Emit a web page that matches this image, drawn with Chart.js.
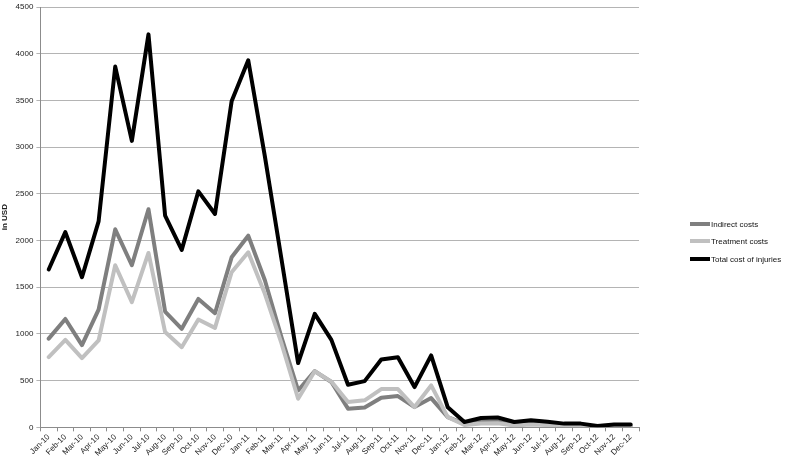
<!DOCTYPE html>
<html>
<head>
<meta charset="utf-8">
<script src="https://cdn.jsdelivr.net/npm/chart.js@4/dist/chart.umd.min.js"></script>
<style>
  html, body { margin: 0; padding: 0; background: #fff; }
  #wrap { width: 786px; height: 461px; position: relative; }
</style>
</head>
<body>
<div id="wrap"><canvas id="c" width="786" height="461"></canvas></div>
<script>
const categories = [
  'Jan-10','Feb-10','Mar-10','Apr-10','May-10','Jun-10','Jul-10','Aug-10','Sep-10','Oct-10','Nov-10','Dec-10',
  'Jan-11','Feb-11','Mar-11','Apr-11','May-11','Jun-11','Jul-11','Aug-11','Sep-11','Oct-11','Nov-11','Dec-11',
  'Jan-12','Feb-12','Mar-12','Apr-12','May-12','Jun-12','Jul-12','Aug-12','Sep-12','Oct-12','Nov-12','Dec-12'
];
const indirectCosts = [
  950, 1160, 880, 1260, 2120, 1735, 2335, 1240, 1055, 1375, 1222, 1820,
  2052, 1575, 965, 395, 602, 485, 200, 212, 317, 335, 217, 313,
  110, 40, 60, 60, 30, 40, 30, 20, 20, 5, 15, 15
];
const treatmentCosts = [
  752, 937, 741, 930, 1735, 1340, 1867, 1020, 858, 1154, 1065, 1660,
  1874, 1430, 898, 306, 600, 490, 271, 289, 410, 410, 217, 449,
  110, 25, 40, 45, 20, 30, 25, 20, 15, 5, 10, 10
];
const totalCosts = [
  1690, 2090, 1607, 2205, 3862, 3067, 4207, 2266, 1900, 2526, 2284, 3490,
  3930, 2900, 1800, 688, 1215, 937, 456, 495, 727, 750, 431, 770,
  215, 57, 100, 105, 57, 75, 60, 40, 40, 15, 30, 30
];
const seriesNames = ['Indirect costs', 'Treatment costs', 'Total cost of injuries'];
const yTicks = { min: 0, max: 4500, step: 500 };

const FONT = "'Liberation Sans', Arial, sans-serif";

const legendPlugin = {
  id: 'sideLegend',
  afterDraw(chart) {
    const ctx = chart.ctx;
    const x0 = 690, lineLen = 20;
    const ys = [224, 241, 259];
    ctx.save();
    ctx.font = '8px ' + FONT;
    ctx.textBaseline = 'middle';
    ctx.textAlign = 'left';
    chart.data.datasets.forEach((ds, i) => {
      const y = ys[i];
      ctx.strokeStyle = ds.borderColor;
      ctx.lineWidth = 4;
      ctx.lineCap = 'butt';
      ctx.beginPath();
      ctx.moveTo(x0, y);
      ctx.lineTo(x0 + lineLen, y);
      ctx.stroke();
      ctx.fillStyle = '#111';
      ctx.fillText(ds.label, x0 + lineLen + 1, y + 0.5);
    });
    ctx.restore();
  }
};

new Chart(document.getElementById('c'), {
  type: 'line',
  data: {
    labels: categories,
    datasets: [
      { label: seriesNames[0], data: indirectCosts, borderColor: '#7f7f7f', backgroundColor: '#7f7f7f', order: 2 },
      { label: seriesNames[1], data: treatmentCosts, borderColor: '#c0c0c0', backgroundColor: '#c0c0c0', order: 1 },
      { label: seriesNames[2], data: totalCosts, borderColor: '#000000', backgroundColor: '#000000', order: 0 }
    ]
  },
  options: {
    responsive: false,
    animation: false,
    devicePixelRatio: 1,
    datasets: {
      line: {
        borderWidth: 4,
        pointRadius: 0,
        pointHoverRadius: 0,
        tension: 0,
        fill: false,
        borderJoinStyle: 'round',
        borderCapStyle: 'round'
      }
    },
    layout: { padding: { left: 0, right: 147, top: -1, bottom: 2 } },
    plugins: {
      legend: { display: false },
      tooltip: { enabled: false }
    },
    scales: {
      x: {
        offset: true,
        grid: { display: true, drawOnChartArea: false, offset: true, tickLength: 4, color: '#8c8c8c' },
        border: { display: true, color: '#8c8c8c', width: 1 },
        ticks: {
          autoSkip: false, maxRotation: 45, minRotation: 45, padding: 1,
          color: '#222', font: { family: FONT, size: 8 }
        }
      },
      y: {
        min: yTicks.min, max: yTicks.max,
        grid: { color: '#b4b4b4', tickLength: 4, drawTicks: true },
        border: { display: true, color: '#8c8c8c', width: 1 },
        ticks: {
          stepSize: yTicks.step, padding: 3, color: '#222',
          font: { family: FONT, size: 8, lineHeight: 1 },
          callback: (v) => String(v)
        },
        title: { display: true, text: 'in USD', color: '#222', font: { family: FONT, size: 8, weight: 'bold' }, padding: { top: 0, bottom: 3 } }
      }
    }
  },
  plugins: [legendPlugin]
});
</script>
</body>
</html>
